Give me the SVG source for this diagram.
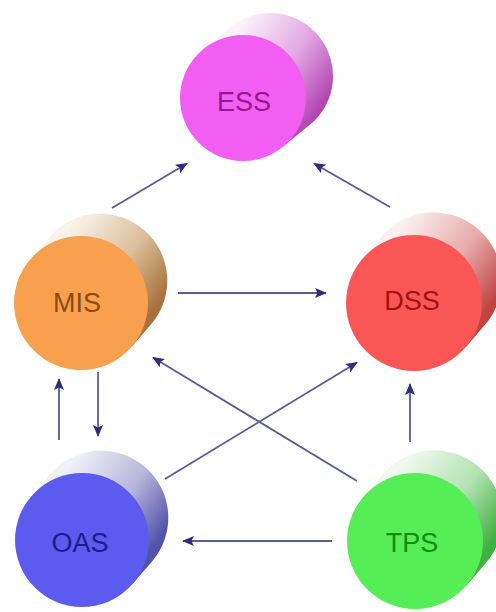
<svg xmlns="http://www.w3.org/2000/svg" xmlns:xlink="http://www.w3.org/1999/xlink" width="496" height="612" viewBox="0 0 496 612">
  <style>
    .label { font-family: "Liberation Sans", Arial, sans-serif; font-size: 27px; text-anchor: middle; }
    .link { stroke: #5a5a9a; stroke-width: 1.8; fill: none; marker-end: url(#head); }
  </style>
  <defs>
    <!-- extruded body of a cylinder (r = 66), seen from the front -->
    <path id="side" d="M-49.95,-43.14 L-30.95,-65.14 A66,66 0 0 1 68.95,21.14 L49.95,43.14 Z"/>
    <circle id="face" r="66"/>
    <!-- top cylinder has a slightly deeper body -->
    <path id="sideTop" d="M-39.8,-48.84 L-12.8,-70.84 A63,63 0 0 1 66.8,26.84 L39.8,48.84 Z"/>
    <circle id="faceTop" r="63"/>

    <linearGradient id="gEss" x1="0.25" y1="0.15" x2="0.95" y2="0.65">
      <stop offset="0" stop-color="#fbf2fb"/>
      <stop offset="0.55" stop-color="#e2a6e2"/>
      <stop offset="1" stop-color="#b245b2"/>
    </linearGradient>
    <linearGradient id="gMis" x1="0.25" y1="0.15" x2="0.95" y2="0.65">
      <stop offset="0" stop-color="#faf3ea"/>
      <stop offset="0.55" stop-color="#dcbf9c"/>
      <stop offset="1" stop-color="#a8723e"/>
    </linearGradient>
    <linearGradient id="gDss" x1="0.25" y1="0.15" x2="0.95" y2="0.65">
      <stop offset="0" stop-color="#fbefef"/>
      <stop offset="0.55" stop-color="#e6aaaa"/>
      <stop offset="1" stop-color="#c04444"/>
    </linearGradient>
    <linearGradient id="gOas" x1="0.25" y1="0.15" x2="0.95" y2="0.65">
      <stop offset="0" stop-color="#f0f0f8"/>
      <stop offset="0.55" stop-color="#b6b6dc"/>
      <stop offset="1" stop-color="#5252a8"/>
    </linearGradient>
    <linearGradient id="gTps" x1="0.25" y1="0.15" x2="0.95" y2="0.65">
      <stop offset="0" stop-color="#f0f9f0"/>
      <stop offset="0.55" stop-color="#b2e2b2"/>
      <stop offset="1" stop-color="#40b040"/>
    </linearGradient>

    <marker id="head" markerUnits="userSpaceOnUse" markerWidth="13" markerHeight="10" refX="11" refY="5" orient="auto">
      <path d="M0,0 L12,5 L0,10 L2.5,5 Z" fill="#2e2e7a"/>
    </marker>
  </defs>

  <rect width="496" height="612" fill="#ffffff"/>

  <g id="node-ess" transform="translate(243,98)">
    <use xlink:href="#sideTop" fill="url(#gEss)"/>
    <use xlink:href="#faceTop" fill="#f25ef2"/>
    <text class="label" x="1" y="13" fill="#8e1a8e">ESS</text>
  </g>

  <g id="node-mis" transform="translate(81,303)">
    <use xlink:href="#side" fill="url(#gMis)" transform="scale(1.015)"/>
    <use xlink:href="#face" fill="#f9a04e" transform="scale(1.015)"/>
    <text class="label" x="-4" y="9" fill="#8a4c14">MIS</text>
  </g>

  <g id="node-dss" transform="translate(414,303)">
    <use xlink:href="#side" fill="url(#gDss)" transform="scale(1.03)"/>
    <use xlink:href="#face" fill="#fb5656" transform="scale(1.03)"/>
    <text class="label" x="-2" y="7" fill="#9c1414">DSS</text>
  </g>

  <g id="node-oas" transform="translate(82,540)">
    <use xlink:href="#side" fill="url(#gOas)" transform="scale(1.015)"/>
    <use xlink:href="#face" fill="#5b5bef" transform="scale(1.015)"/>
    <text class="label" x="-2" y="12" fill="#1c1c8c">OAS</text>
  </g>

  <g id="node-tps" transform="translate(415,541)">
    <use xlink:href="#side" fill="url(#gTps)" transform="scale(1.03)"/>
    <use xlink:href="#face" fill="#56ee56" transform="scale(1.03)"/>
    <text class="label" x="-3" y="11" fill="#148c14">TPS</text>
  </g>

  <g id="connectors">
    <line class="link" x1="112" y1="208" x2="187" y2="163.5"/>
    <line class="link" x1="390" y1="207" x2="314" y2="163.5"/>
    <line class="link" x1="178" y1="293" x2="326" y2="293"/>
    <line class="link" x1="357" y1="481" x2="153" y2="357.5"/>
    <line class="link" x1="165" y1="479" x2="357" y2="362.5"/>
    <line class="link" x1="59" y1="440" x2="59" y2="379"/>
    <line class="link" x1="98" y1="372" x2="98" y2="436"/>
    <line class="link" x1="410" y1="442" x2="410" y2="384"/>
    <line class="link" x1="332" y1="541" x2="183" y2="541"/>
  </g>
</svg>
